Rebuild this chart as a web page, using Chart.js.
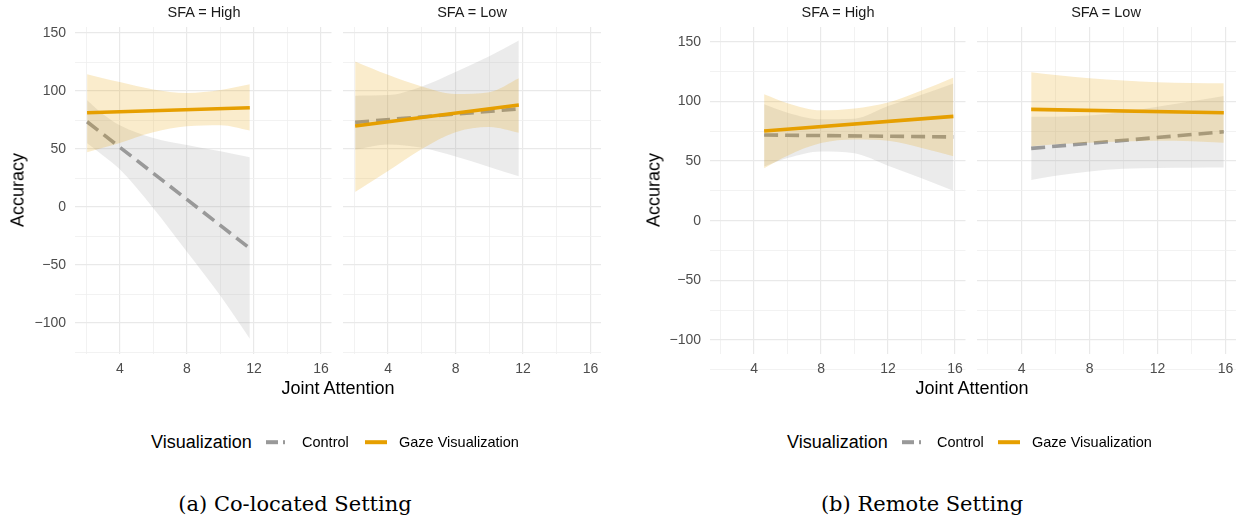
<!DOCTYPE html>
<html>
<head>
<meta charset="utf-8">
<title>Accuracy by Joint Attention</title>
<script src="https://cdn.jsdelivr.net/npm/chart.js@4.4.1/dist/chart.umd.min.js"></script>
<style>
  body { margin: 0; background: #fff; }
  #wrap { position: relative; width: 1245px; height: 520px; overflow: hidden;
          font-family: 'Liberation Sans', Arial, sans-serif; }
  canvas { position: absolute; top: 0; }
  .t { position: absolute; white-space: nowrap; transform: translate(-50%, -50%); }
  .strip { font-size: 14.5px; color: #1a1a1a; }
  .axtitle { font-size: 18px; color: #000; }
  .ytitle { transform: translate(-50%, -50%) rotate(-90deg); }
  .leg { position: absolute; white-space: nowrap; transform: translateY(-50%); color: #000; }
  .legtitle { font-size: 18px; }
  .leglabel { font-size: 14.5px; }
  .key { position: absolute; height: 3.6px; transform: translateY(-50%); }
  .caption { font-family: 'DejaVu Serif', serif; font-size: 21px; color: #000; }
</style>
</head>
<body>
<div id="wrap">
  <canvas id="coHigh"></canvas>
  <canvas id="coLow"></canvas>
  <canvas id="reHigh"></canvas>
  <canvas id="reLow"></canvas>

  <div class="t strip" style="left:204px; top:12px;">SFA = High</div>
  <div class="t strip" style="left:472px; top:12px;">SFA = Low</div>
  <div class="t strip" style="left:838px; top:12px;">SFA = High</div>
  <div class="t strip" style="left:1106px; top:12px;">SFA = Low</div>

  <div class="t axtitle ytitle" style="left:18px; top:190px;">Accuracy</div>
  <div class="t axtitle ytitle" style="left:654px; top:190px;">Accuracy</div>
  <div class="t axtitle" style="left:338px; top:388px;">Joint Attention</div>
  <div class="t axtitle" style="left:972px; top:388px;">Joint Attention</div>

  <!-- legend, co-located -->
  <div class="leg legtitle" style="left:151px; top:442px;">Visualization</div>
  <div class="key" style="left:266px; top:442px; width:12px; background:#999999;"></div>
  <div class="key" style="left:283px; top:442px; width:2px; background:#999999;"></div>
  <div class="leg leglabel" style="left:302px; top:442px;">Control</div>
  <div class="key" style="left:365px; top:442px; width:22px; background:#E69F00;"></div>
  <div class="leg leglabel" style="left:399px; top:442px;">Gaze Visualization</div>

  <!-- legend, remote -->
  <div class="leg legtitle" style="left:787px; top:442px;">Visualization</div>
  <div class="key" style="left:902px; top:442px; width:12px; background:#999999;"></div>
  <div class="key" style="left:919px; top:442px; width:2px; background:#999999;"></div>
  <div class="leg leglabel" style="left:937px; top:442px;">Control</div>
  <div class="key" style="left:998px; top:442px; width:22px; background:#E69F00;"></div>
  <div class="leg leglabel" style="left:1032px; top:442px;">Gaze Visualization</div>

  <div class="t caption" style="left:295px; top:504px;">(a) Co-located Setting</div>
  <div class="t caption" style="left:922px; top:504px;">(b) Remote Setting</div>
</div>

<script>
// axis ticks: grid at every step, labels only on the major ones
const xGrid = [2, 4, 6, 8, 10, 12, 14, 16];
const xLabels = [4, 8, 12, 16];
const yGrid = [-125, -100, -75, -50, -25, 0, 25, 50, 75, 100, 125, 150];
const yLabels = [-100, -50, 0, 50, 100, 150];

// co-located, SFA = High
const coHighX = [2.05, 3, 4, 6, 8, 10, 11.75];
const coHighGaze = [81.3, 85.6];
const coHighGazeUp = [114.4, 111, 107.8, 101.4, 98.3, 100.9, 105.8];
const coHighGazeLo = [47.2, 51, 55.3, 64.5, 69.7, 70.6, 66];
const coHighCtrl = [73.5, -35.6];
const coHighCtrlUp = [92, 80, 70.5, 59.5, 53.5, 48, 43];
const coHighCtrlLo = [55, 44.5, 32.5, -1, -38.5, -76.5, -113.5];

// co-located, SFA = Low
const coLowX = [2.05, 4, 6, 8, 10, 11.75];
const coLowGaze = [69.9, 88];
const coLowGazeUp = [125.5, 114, 104, 97.5, 99, 111];
const coLowGazeLo = [13, 31, 50, 64.5, 69, 64];
const coLowCtrl = [73, 84.6];
const coLowCtrlUp = [96, 96.5, 104, 116.5, 130, 143.5];
const coLowCtrlLo = [49.5, 54, 51, 43.5, 34.5, 26.5];

// remote, SFA = High
const reHighX = [4.6, 6, 8, 10, 12, 14, 15.9];
const reHighGaze = [75.1, 87.4];
const reHighGazeUp = [106, 98.5, 92.5, 94, 99, 109, 120];
const reHighGazeLo = [44, 54.5, 65, 68, 67, 61, 54];
const reHighCtrl = [71.8, 70.2];
const reHighCtrlUp = [97.5, 90.5, 85, 85.5, 96, 105.5, 115];
const reHighCtrlLo = [45.5, 52.5, 58, 56.5, 46, 35.5, 25];

// remote, SFA = Low
const reLowX = [4.56, 6, 8, 10, 12, 14, 15.9];
const reLowGaze = [93.3, 90.5];
const reLowGazeUp = [124.3, 122, 119.3, 117.4, 116, 115.3, 115.1];
const reLowGazeLo = [62.3, 64, 65.4, 66.4, 66.9, 66.6, 65.3];
const reLowCtrl = [60.6, 74.5];
const reLowCtrlUp = [87.1, 87.2, 88.2, 91.1, 95.4, 100, 104.5];
const reLowCtrlLo = [34.1, 37.6, 41.3, 43.5, 44.2, 44.4, 44.5];

const ORANGE = '#E69F00';
const GREY = '#999999';
const ORANGE_BAND = 'rgba(230, 159, 0, 0.2)';
const GREY_BAND = 'rgba(153, 153, 153, 0.2)';
const FONT = "'Liberation Sans', Arial, sans-serif";

const CANVAS_H = 380;
const PANEL_TOP = 27;
const PANEL_BOTTOM = 354;

function pts(xs, ys) {
    return xs.map((x, i) => ({ x: x, y: ys[i] }));
}

function ends(xs) {
    return [xs[0], xs[xs.length - 1]];
}

function minus(v) {
    return v < 0 ? '\u2212' + Math.abs(v) : String(v);
}

function gridColor(ctx, major) {
    return major.includes(ctx.tick.value) ? '#e9e9e9' : '#efefef';
}

function gridWidth(ctx, major) {
    return major.includes(ctx.tick.value) ? 1.2 : 0.8;
}

function drawPanel(p) {
    const canvas = document.getElementById(p.id);
    canvas.width = p.width;
    canvas.height = CANVAS_H;
    canvas.style.left = p.left + 'px';

    const band = { borderWidth: 0, borderColor: 'transparent', cubicInterpolationMode: 'monotone' };

    new Chart(canvas, {
        type: 'line',
        data: {
            datasets: [
                { data: pts(ends(p.x), p.gaze), borderColor: ORANGE, borderWidth: 3.6, order: 0 },
                { ...band, data: pts(p.x, p.gazeUp), fill: '+1', backgroundColor: ORANGE_BAND, order: 1 },
                { ...band, data: pts(p.x, p.gazeLo), order: 1 },
                { data: pts(ends(p.x), p.ctrl), borderColor: GREY, borderWidth: 3.6,
                  borderDash: [14, 7], borderCapStyle: 'butt', order: 2 },
                { ...band, data: pts(p.x, p.ctrlUp), fill: '+1', backgroundColor: GREY_BAND, order: 3 },
                { ...band, data: pts(p.x, p.ctrlLo), order: 3 }
            ]
        },
        options: {
            responsive: false,
            animation: false,
            devicePixelRatio: 1,
            layout: { autoPadding: false, padding: { top: PANEL_TOP, right: p.padRight, left: 0, bottom: 0 } },
            elements: { point: { radius: 0 }, line: { tension: 0 } },
            plugins: { legend: { display: false }, tooltip: { enabled: false } },
            scales: {
                x: {
                    type: 'linear',
                    min: p.xRange[0],
                    max: p.xRange[1],
                    bounds: 'data',
                    afterBuildTicks: axis => { axis.ticks = xGrid.map(v => ({ value: v })); },
                    afterFit: axis => { axis.height = CANVAS_H - PANEL_BOTTOM; },
                    border: { display: false },
                    grid: {
                        drawTicks: false,
                        color: ctx => gridColor(ctx, xLabels),
                        lineWidth: ctx => gridWidth(ctx, xLabels)
                    },
                    ticks: {
                        autoSkip: false,
                        maxRotation: 0,
                        padding: 7,
                        color: '#4d4d4d',
                        font: { family: FONT, size: 14 },
                        callback: v => xLabels.includes(v) ? String(v) : ''
                    }
                },
                y: {
                    type: 'linear',
                    min: p.yRange[0],
                    max: p.yRange[1],
                    bounds: 'data',
                    afterBuildTicks: axis => { axis.ticks = yGrid.map(v => ({ value: v })); },
                    afterFit: axis => { axis.width = p.axisWidth; },
                    border: { display: false },
                    grid: {
                        drawTicks: false,
                        color: ctx => gridColor(ctx, yLabels),
                        lineWidth: ctx => gridWidth(ctx, yLabels)
                    },
                    ticks: {
                        display: p.axisWidth > 0,
                        padding: 9,
                        color: '#4d4d4d',
                        font: { family: FONT, size: 14 },
                        callback: v => yLabels.includes(v) ? minus(v) : ''
                    }
                }
            }
        }
    });
}

const coRange = [-126.7, 155.2];
const reRange = [-111.7, 162.3];

const panels = [
    { id: 'coHigh', left: 0, width: 336, axisWidth: 75, padRight: 3, xRange: [1.33, 16.62], yRange: coRange,
      x: coHighX, gaze: coHighGaze, gazeUp: coHighGazeUp, gazeLo: coHighGazeLo,
      ctrl: coHighCtrl, ctrlUp: coHighCtrlUp, ctrlLo: coHighCtrlLo },
    { id: 'coLow', left: 343, width: 265, axisWidth: 0, padRight: 7, xRange: [1.33, 16.62], yRange: coRange,
      x: coLowX, gaze: coLowGaze, gazeUp: coLowGazeUp, gazeLo: coLowGazeLo,
      ctrl: coLowCtrl, ctrlUp: coLowCtrlUp, ctrlLo: coLowCtrlLo },
    { id: 'reHigh', left: 630, width: 340, axisWidth: 80, padRight: 3, xRange: [1.37, 16.62], yRange: reRange,
      x: reHighX, gaze: reHighGaze, gazeUp: reHighGazeUp, gazeLo: reHighGazeLo,
      ctrl: reHighCtrl, ctrlUp: reHighCtrlUp, ctrlLo: reHighCtrlLo },
    { id: 'reLow', left: 977, width: 265, axisWidth: 0, padRight: 6, xRange: [1.37, 16.62], yRange: reRange,
      x: reLowX, gaze: reLowGaze, gazeUp: reLowGazeUp, gazeLo: reLowGazeLo,
      ctrl: reLowCtrl, ctrlUp: reLowCtrlUp, ctrlLo: reLowCtrlLo }
];

panels.forEach(drawPanel);
</script>
</body>
</html>
